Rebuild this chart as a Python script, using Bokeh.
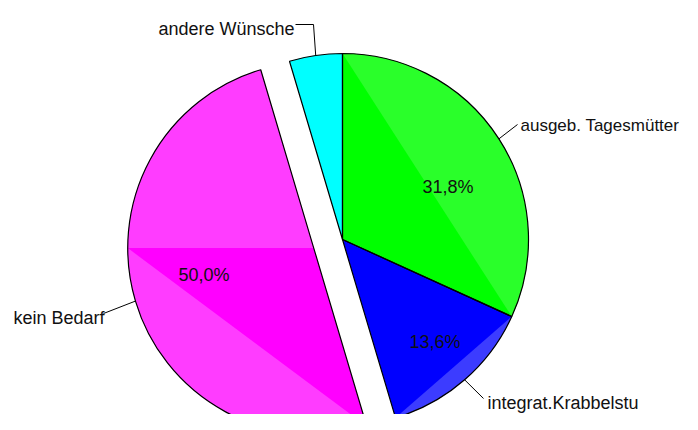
import numpy as np
from bokeh.plotting import figure
from bokeh.models import Range1d
from bokeh.embed import file_html
from bokeh.resources import INLINE
from bokeh.core.properties import value

# ---- data ----
categories = ["ausgeb. Tagesmütter", "integrat.Krabbelstu", "kein Bedarf", "andere Wünsche"]
percent = [31.8, 13.6, 50.0, 4.6]
pct_labels = ["31,8%", "13,6%", "50,0%", ""]
colors = ["#00FF00", "#0000FF", "#FF00FF", "#00FFFF"]
shade_colors = ["#2AFF2A", "#3C3CFF", "#FF3CFF", "#00FFFF"]
explode = [0, 0, 30, 0]

# ---- layout (image pixel coordinates) ----
W, H = 682, 414
def Y(img_y):
    return H - img_y

CX, CY, R = 342, Y(239), 186

p = figure(width=W, height=H, x_range=Range1d(0, W), y_range=Range1d(0, H),
           output_backend="svg", toolbar_location=None, min_border=0,
           x_axis_type=None, y_axis_type=None)
p.grid.visible = False
p.outline_line_color = None
p.background_fill_color = "white"
p.border_fill_color = "white"

frac = np.array(percent) / 100.0
cum = np.concatenate([[0], np.cumsum(frac)[:-1]])
a_start = np.pi / 2 - 2 * np.pi * cum          # clockwise from top
a_end = a_start - 2 * np.pi * frac
a_mid = (a_start + a_end) / 2
cxs = CX + np.array(explode) * np.cos(a_mid)
cys = CY + np.array(explode) * np.sin(a_mid)

# base slices
p.wedge(x=list(cxs), y=list(cys), radius=R, start_angle=list(a_end), end_angle=list(a_start),
        direction="anticlock", fill_color=colors, line_color=None)

def arc_pts(cx, cy, a0, a1, n=80):
    t = np.linspace(a0, a1, n)
    return list(cx + R * np.cos(t)), list(cy + R * np.sin(t))

# shading artefacts (lighter fan areas)
for i in (0, 1):
    xs, ys = arc_pts(cxs[i], cys[i], a_end[i], a_start[i])
    p.patch(xs, ys, fill_color=shade_colors[i], line_color=None)
split = -np.pi
xs, ys = arc_pts(cxs[2], cys[2], a_end[2], split)
p.patch([cxs[2]] + xs, [cys[2]] + ys, fill_color=shade_colors[2], line_color=None)
xs, ys = arc_pts(cxs[2], cys[2], split, a_start[2])
p.patch(xs, ys, fill_color=shade_colors[2], line_color=None)

# outlines
p.wedge(x=list(cxs), y=list(cys), radius=R, start_angle=list(a_end), end_angle=list(a_start),
        direction="anticlock", fill_color=None, line_color="black", line_width=1.2)

# leader lines
lead_end = {0: [(517, 124)], 1: [(483, 398)], 2: [(103, 313)], 3: [(313, 24), (295, 24)]}
for i in range(4):
    sx = cxs[i] + R * np.cos(a_mid[i])
    sy = cys[i] + R * np.sin(a_mid[i])
    xs = [sx] + [pt[0] for pt in lead_end[i]]
    ys = [sy] + [Y(pt[1]) for pt in lead_end[i]]
    p.line(xs, ys, line_color="black", line_width=1)

font = value("Liberation Sans")
cat_pos = [(520, 125), (487, 402), (13, 317), (158, 28)]
cat_size = ["17px", "18px", "18px", "18px"]
for i in range(4):
    p.text(x=[cat_pos[i][0]], y=[Y(cat_pos[i][1])], text=[categories[i]],
           text_font=font, text_font_size=value(cat_size[i]), text_color="#111111",
           text_align="left", text_baseline="alphabetic")
pct_pos = [(422, 186), (409, 341), (178, 274)]
p.text(x=[c[0] for c in pct_pos], y=[Y(c[1]) for c in pct_pos], text=pct_labels[:3],
       text_font=font, text_font_size=value("18px"), text_color="#111111",
       text_align="left", text_baseline="alphabetic")

open("out.html", "w").write(file_html(p, INLINE))
